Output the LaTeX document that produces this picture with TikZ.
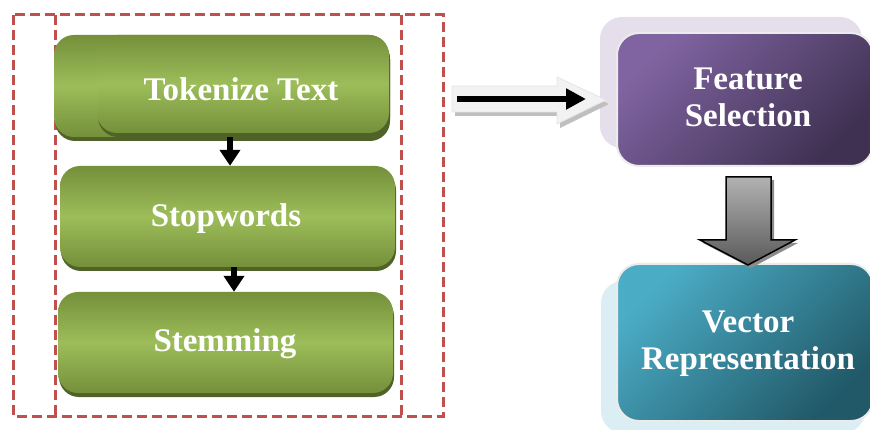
\documentclass[tikz,border=0pt]{standalone}
\usepackage{fontspec}
\setmainfont{Liberation Serif}
\usetikzlibrary{shadows,arrows.meta,calc}
\definecolor{gdark}{HTML}{74903A}
\definecolor{glight}{HTML}{9DBD5A}
\definecolor{gshadow}{HTML}{4F6228}
\definecolor{dashred}{HTML}{C0504D}
\definecolor{purpA}{HTML}{8064A2}
\definecolor{purpB}{HTML}{3F3151}
\definecolor{purpback}{HTML}{E5DFEC}
\definecolor{tealA}{HTML}{4BACC6}
\definecolor{tealB}{HTML}{215968}
\definecolor{tealback}{HTML}{DAEEF3}
\tikzset{
  lbl/.style={text=white, font=\fontsize{33}{37}\selectfont\bfseries, align=center},
  greenbox/.style={rectangle, rounded corners=20pt, inner sep=0pt,
    top color=gdark, bottom color=gdark, middle color=glight,
    drop shadow={shadow xshift=1pt, shadow yshift=-4pt, fill=gshadow, opacity=1}},
  backbox/.style={rectangle, rounded corners=22pt, inner sep=0pt},
  frontbox/.style={rectangle, rounded corners=22pt, inner sep=0pt, draw=white!92!black, line width=2pt},
  dashbox/.style={draw=dashred, line width=3pt, dash pattern=on 10pt off 5pt},
  flowarrow/.style={line width=6pt, -{Triangle[length=16pt,width=20pt]}},
}
\begin{document}
\begin{tikzpicture}[x=1pt,y=-1pt]
\useasboundingbox (0,0) rectangle (870,430);

% dashed frames
\draw[dashbox] (13,15) rectangle (443,416);
\draw[dashbox] (55,15) -- (55,416);
\draw[dashbox] (401,15) -- (401,416);

% green boxes
\node[greenbox, minimum width=335pt, minimum height=102pt] (tokback) at (221.5,86) {};
\node[greenbox, minimum width=292pt, minimum height=98pt] (tok) at (243,84) {};
\node[greenbox, minimum width=335pt, minimum height=101pt] (stop) at (227.5,216.5) {};
\node[greenbox, minimum width=335pt, minimum height=101pt] (stem) at (225.5,342.5) {};
\node[lbl] (toktext) at (241,89) {Tokenize Text};
\node[lbl] (stoptext) at (226,219) {Stopwords};
\node[lbl] (stemtext) at (225,344) {Stemming};

\draw[flowarrow] ($(tokback.south)+(8.5,0)$) -- ($(stop.north)+(2.5,0)$);
\draw[flowarrow] ($(stop.south)+(6.5,0)$) -- ($(stem.north)+(8.5,0)$);

% Feature selection
\node[backbox, fill=purpback, minimum width=262pt, minimum height=131pt] (featback) at (731,82.5) {};
\node[frontbox, minimum width=256pt, minimum height=133pt,
      top color=purpA, bottom color=purpB, shading angle=45] (feat) at (745,99.5) {};
\node[lbl] (feattext) at (748,97) {Feature\\Selection};

% Vector representation
\node[backbox, fill=tealback, minimum width=264pt, minimum height=152pt] (vecback) at (733,357) {};
\node[frontbox, minimum width=256pt, minimum height=157pt,
      top color=tealA, bottom color=tealB, shading angle=45] (vec) at (745,342.5) {};
\node[lbl] (vectext) at (748,344) {Vector\\Representation};

% big right arrow (outline + black)
\coordinate (rs) at (452,99);
\fill[black!25] ($(rs)+(3,4)$) -- ++(0,-13) -- ++(105,0) -- ++(0,-9) -- ++(49,23) -- ++(-49,24) -- ++(0,-12) -- ++(-105,0) -- cycle;
\filldraw[fill=black!5, draw=black!10, line width=0.8pt] (rs) -- ++(0,-13) -- ++(105,0) -- ++(0,-9) -- ++(49,23) -- ++(-49,24) -- ++(0,-12) -- ++(-105,0) -- cycle;
\coordinate (ra) at (457,99);
\coordinate (rb) at (586,99);
\draw[line width=6pt, -{Triangle[length=20pt,width=20pt]}] (ra) -- (rb);

% big down arrow
\coordinate (ds) at (726,177);
\fill[black!45] ($(ds)+(3,3)$) -- ++(45,0) -- ++(0,63) -- ++(24,0) -- ++(-47,25) -- ++(-48,-25) -- ++(26,0) -- cycle;
\shade[top color=black!30, bottom color=black!65] (ds) -- ++(45,0) -- ++(0,63) -- ++(24,0) -- ++(-47,25) -- ++(-48,-25) -- ++(26,0) -- cycle;
\draw[black, line width=1.5pt] (ds) -- ++(45,0) -- ++(0,63) -- ++(24,0) -- ++(-47,25) -- ++(-48,-25) -- ++(26,0) -- cycle;
\end{tikzpicture}
\end{document}
